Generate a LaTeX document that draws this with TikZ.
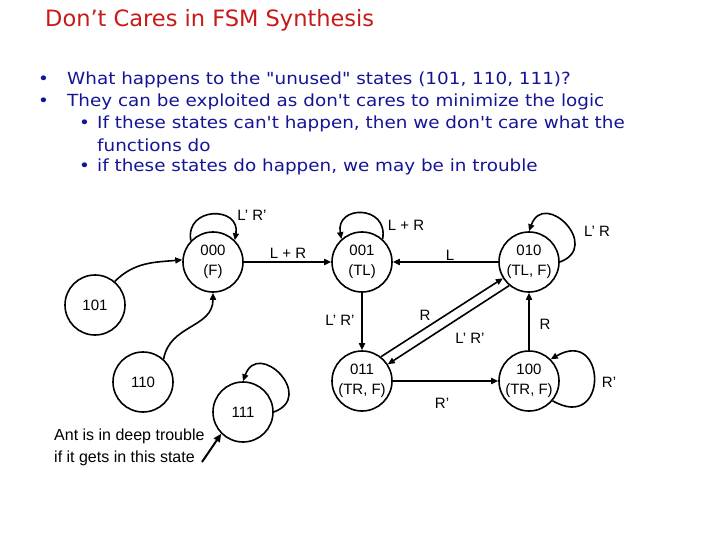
\documentclass[tikz,border=0pt]{standalone}
\usepackage{fontspec}
\setmainfont{DejaVu Sans}[Ligatures=TeXOff]
\newfontfamily\bfont{DejaVu Sans}[Ligatures=TeXOff,FakeStretch=1.1]
\newfontfamily\labfont{Liberation Sans}
\usetikzlibrary{arrows.meta}
\definecolor{tblue}{RGB}{20,20,150}
\definecolor{tred}{RGB}{200,25,25}
\begin{document}
\begin{tikzpicture}[x=1pt,y=-1pt,
  st/.style={circle,draw,line width=1.6pt,minimum size=60pt,inner sep=0pt,
    font=\labfont\fontsize{15}{20}\selectfont,align=center},
  tr/.style={-{Triangle[length=7pt,width=6pt]},line width=1.6pt},
  lbl/.style={font=\labfont\fontsize{15}{16}\selectfont,inner sep=1pt},
  btxt/.style={anchor=west,text=tblue,font=\bfont\fontsize{16.7}{22}\selectfont,inner sep=0pt}]
\useasboundingbox (0,0) rectangle (720,540);
% title
\node[anchor=west,text=tred,font=\fontsize{22.5}{26}\selectfont,inner sep=0pt] (title) at (45,20) {Don’t Cares in FSM Synthesis};
% bullets
\node[btxt] (b1d) at (38,80) {•};
\node[btxt] (b1) at (67,80) {What happens to the "unused" states (101, 110, 111)?};
\node[btxt] (b2d) at (38,102) {•};
\node[btxt] (b2) at (67,102) {They can be exploited as don't cares to minimize the logic};
\node[btxt] (b3d) at (79,124) {•};
\node[btxt] (b3) at (97,124) {If these states can't happen, then we don't care what the};
\node[btxt] (b3c) at (97,145) {functions do};
\node[btxt] (b4d) at (79,167) {•};
\node[btxt] (b4) at (97,167) {if these states do happen, we may be in trouble};
% states
\node[st] (s000) at (213,262) {000\\(F)};
\node[st] (s001) at (362,262) {001\\(TL)};
\node[st] (s010) at (529,262) {010\\(TL, F)};
\node[st] (s101) at (95,305) {101};
\node[st] (s110) at (143,382) {110};
\node[st] (s111) at (243,412) {111};
\node[st] (s011) at (362,381) {011\\(TR, F)};
\node[st] (s100) at (529,381) {100\\(TR, F)};
% self loops (y axis points down: polar angles negated)
\draw[tr] (s000.136) .. controls +(-100:35) and +(-80:35) .. (s000.45);
\draw[tr] (s001.48) .. controls +(-80:35) and +(-100:35) .. (s001.132);
\draw[tr] (s010.0) .. controls +(-20:45) and +(-70:45) .. (s010.90);
\draw[tr] (s111.0) .. controls +(-20:45) and +(-70:45) .. (s111.90);
\draw[tr] (s100.-40) .. controls +(30:65) and +(-30:65) .. (s100.45);
% transitions
\draw[tr] (s000) -- (s001);
\draw[tr] (s010) -- (s001);
\draw[tr] (s001) -- (s011);
\draw[tr] (s011.52) -- (s010.212);
\draw[tr] (s010.230) -- (s011.33);
\draw[tr] (s011) -- (s100);
\draw[tr] (s100) -- (s010);
\draw[tr] (s101.50) to[out=45,in=185] (s000.176);
\draw[tr] (s110.48) to[out=80,in=270,looseness=1.1] (s000.south);
% labels
\node[lbl] (l1) at (252,215) {L’ R’};
\node[lbl] (l2) at (288,253) {L + R};
\node[lbl] (l3) at (406,225) {L + R};
\node[lbl] (l4) at (450,255) {L};
\node[lbl] (l5) at (597,231) {L’ R};
\node[lbl] (l6) at (340,320) {L’ R’};
\node[lbl] (l7) at (425,315) {R};
\node[lbl] (l8) at (470,338) {L’ R’};
\node[lbl] (l9) at (545,324) {R};
\node[lbl] (l10) at (442,403) {R’};
\node[lbl] (l11) at (609,382) {R’};
% annotation
\node[lbl,anchor=north west,align=left,inner sep=0pt,font=\labfont\fontsize{16}{22}\selectfont] (note) at (54,429) {Ant is in deep trouble\\if it gets in this state};
\coordinate (nend) at (202,462);
\draw[-{Triangle[length=8pt,width=7pt]},line width=2pt] (nend) -- (s111.225);
\end{tikzpicture}
\end{document}
